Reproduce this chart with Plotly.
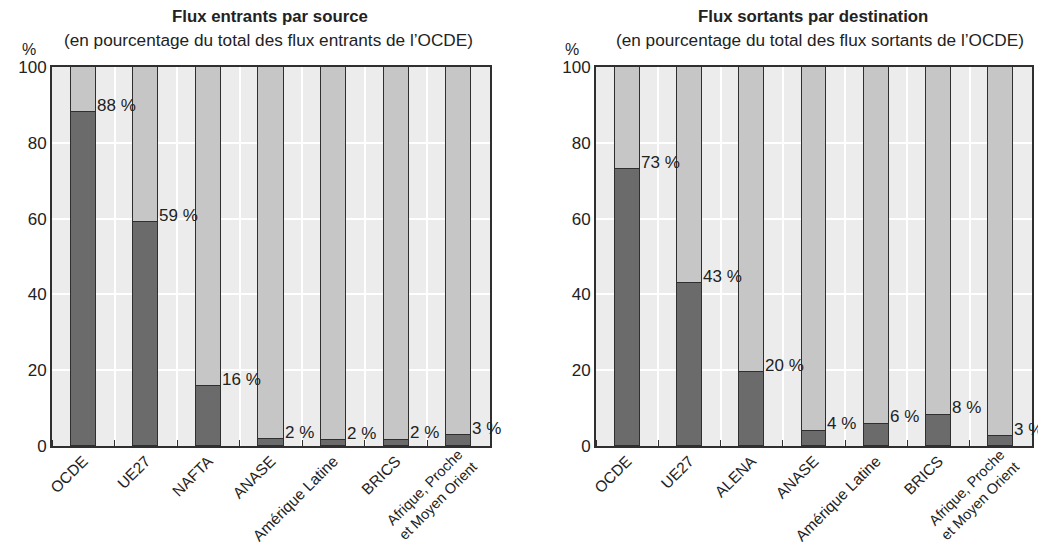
import plotly.graph_objects as go

cats_in = ["OCDE", "UE27", "NAFTA", "ANASE", "Amérique Latine", "BRICS", "Afrique, Proche<br>et Moyen Orient"]
vals_in = [88, 59, 15.8, 1.8, 1.5, 1.7, 2.9]
labels_in = ["88 %", "59 %", "16 %", "2 %", "2 %", "2 %", "3 %"]

cats_out = ["OCDE", "UE27", "ALENA", "ANASE", "Amérique Latine", "BRICS", "Afrique, Proche<br>et Moyen Orient"]
vals_out = [73, 43, 19.5, 4.0, 5.9, 8.3, 2.6]
labels_out = ["73 %", "43 %", "20 %", "4 %", "6 %", "8 %", "3 %"]

yticks = [0, 20, 40, 60, 80, 100]

FONT = "Liberation Sans, Arial, sans-serif"
DARK = "#6b6b6b"
LIGHT = "#c6c6c6"
BG = "#ececec"
EDGE = "#2f2f2f"
TXT = "#222222"
BARW = 0.4
CATSIZE = 15.5
MULTISIZE = 14.5

# page body has an 8px margin; figure placed at (8, 8) in the window
W, H = 1038, 539
OX, OY = 8, 8


def px_x(v):
    return (v - OX) / W


def px_y(v):
    return 1 - (v - OY) / H


fig = go.Figure()

panels = [
    ("x", "y", cats_in, vals_in, labels_in),
    ("x2", "y2", cats_out, vals_out, labels_out),
]

for xa, ya, cats, vals, labs in panels:
    xs = list(range(len(cats)))
    rest = [100 - v for v in vals]
    fig.add_trace(go.Bar(x=xs, y=vals, xaxis=xa, yaxis=ya, width=BARW,
                         marker=dict(color=DARK, line=dict(color=EDGE, width=1.5)),
                         showlegend=False, hoverinfo="skip"))
    fig.add_trace(go.Bar(x=xs, y=rest, xaxis=xa, yaxis=ya, width=BARW,
                         marker=dict(color=LIGHT, line=dict(color=EDGE, width=1.5)),
                         showlegend=False, hoverinfo="skip"))
    for i, (v, t) in enumerate(zip(vals, labs)):
        fig.add_annotation(x=i + BARW / 2, y=v, xref=xa, yref=ya, text=t,
                           showarrow=False, xanchor="left", yanchor="middle",
                           xshift=-1, yshift=7,
                           font=dict(family=FONT, size=17, color=TXT))
    # multi-line category labels are drawn as rotated, centre-aligned text
    for i, c in enumerate(cats):
        if "<br>" in c:
            fig.add_annotation(x=i, y=0, xref=xa, yref=ya + " domain", text=c,
                               showarrow=False, textangle=-45, align="center",
                               xanchor="right", yanchor="top", xshift=24, yshift=3,
                               font=dict(family=FONT, size=MULTISIZE, color=TXT))

axis_common_x = dict(
    range=[-0.5, 6.5], tickmode="array", tickvals=list(range(7)),
    tickangle=-45, showgrid=False, ticks="", zeroline=False,
    showline=True, linecolor=EDGE, linewidth=2, mirror=True,
    tickfont=dict(family=FONT, size=CATSIZE, color=TXT),
    ticklabelstandoff=-2,
    minor=dict(tick0=0.5, dtick=1, showgrid=True, gridcolor="white", gridwidth=1.5,
               ticks="inside", ticklen=6, tickcolor=EDGE, tickwidth=1),
    automargin=False,
)
axis_common_y = dict(
    range=[0, 100], tickmode="array", tickvals=yticks,
    showgrid=True, gridcolor="white", gridwidth=1.5, zeroline=False,
    showline=True, linecolor=EDGE, linewidth=2, mirror=True, ticks="",
    tickfont=dict(family=FONT, size=17, color=TXT), automargin=False,
)


def tick_text(cats):
    return ["" if "<br>" in c else c for c in cats]


ydom = [px_y(446), px_y(67)]
fig.update_layout(
    width=W, height=H,
    margin=dict(l=0, r=0, t=0, b=0),
    paper_bgcolor="white", plot_bgcolor=BG,
    barmode="stack", bargap=0,
    xaxis=dict(domain=[px_x(52), px_x(490)], anchor="y", ticktext=tick_text(cats_in), **axis_common_x),
    yaxis=dict(domain=ydom, anchor="x", **axis_common_y),
    xaxis2=dict(domain=[px_x(596), px_x(1032)], anchor="y2", ticktext=tick_text(cats_out), **axis_common_x),
    yaxis2=dict(domain=ydom, anchor="x2", **axis_common_y),
    font=dict(family=FONT, color=TXT),
)

titles = [
    (270, 268, "Flux entrants par source", "(en pourcentage du total des flux entrants de l\u2019OCDE)", 28.5),
    (813, 820, "Flux sortants par destination", "(en pourcentage du total des flux sortants de l\u2019OCDE)", 571.5),
]
for tx, sx, t, s, pcx in titles:
    fig.add_annotation(x=px_x(tx), y=px_y(16.5), xref="paper", yref="paper", text="<b>" + t + "</b>",
                       showarrow=False, xanchor="center", yanchor="middle",
                       font=dict(family=FONT, size=16.8, color=TXT))
    fig.add_annotation(x=px_x(sx), y=px_y(40), xref="paper", yref="paper", text=s,
                       showarrow=False, xanchor="center", yanchor="middle",
                       font=dict(family=FONT, size=17.2, color=TXT))
    fig.add_annotation(x=px_x(pcx), y=px_y(49.5), xref="paper", yref="paper", text="%",
                       showarrow=False, xanchor="center", yanchor="middle",
                       font=dict(family=FONT, size=16, color=TXT))

fig.write_html("out.html")
